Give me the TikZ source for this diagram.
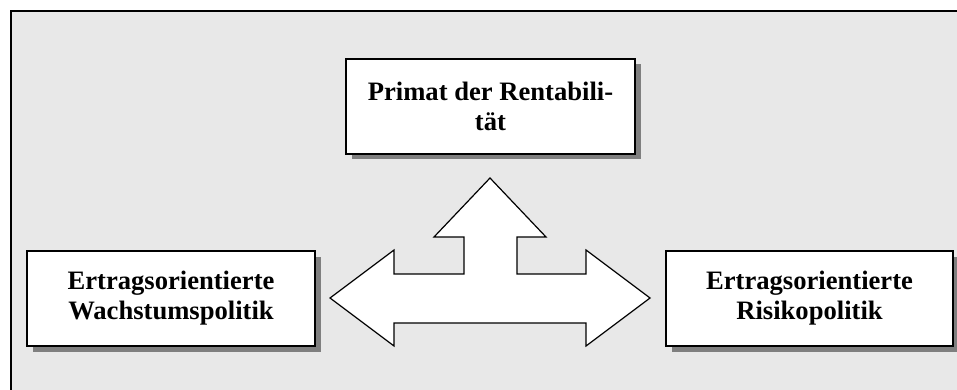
\documentclass[tikz,border=0pt]{standalone}
\usepackage{fontspec}
\setmainfont{Liberation Serif}
\usetikzlibrary{shadows}
\definecolor{panel}{HTML}{E8E8E8}
\definecolor{shade}{HTML}{7F7F7F}
\tikzset{
  goalbox/.style={draw=black, line width=1.6pt, fill=white, rectangle,
    minimum height=95pt, inner sep=0pt, align=center,
    font=\fontsize{26.6pt}{30pt}\selectfont\bfseries,
    drop shadow={shadow xshift=5.5pt, shadow yshift=-5.5pt, fill=shade, opacity=1}},
  bigarrow/.style={draw=black, line width=1.2pt, fill=white, line join=miter}
}
\begin{document}
\begin{tikzpicture}[x=1pt, y=-1pt]
  \useasboundingbox (0,0) rectangle (957,390);
  \clip (0,0) rectangle (957,390);
  % background panel
  \draw[line width=2pt, fill=panel] (11,11) rectangle (975,405);

  % three-way block arrow
  \draw[bigarrow] (330,298) -- (394,250) -- (394,274) -- (464,274) -- (464,237)
    -- (434,237) -- (490,178) -- (546,237) -- (517,237) -- (517,274)
    -- (586,274) -- (586,250) -- (650,298) -- (586,346) -- (586,323)
    -- (394,323) -- (394,346) -- cycle;

  % boxes
  \node[goalbox, minimum width=289pt] (top) at (490.5,106.5) {Primat der Rentabili-\\tät};
  \node[goalbox, minimum width=288pt] (left) at (171,298.5) {Ertragsorientierte\\Wachstumspolitik};
  \node[goalbox, minimum width=287pt] (right) at (809.5,298.5) {Ertragsorientierte\\Risikopolitik};
\end{tikzpicture}
\end{document}
